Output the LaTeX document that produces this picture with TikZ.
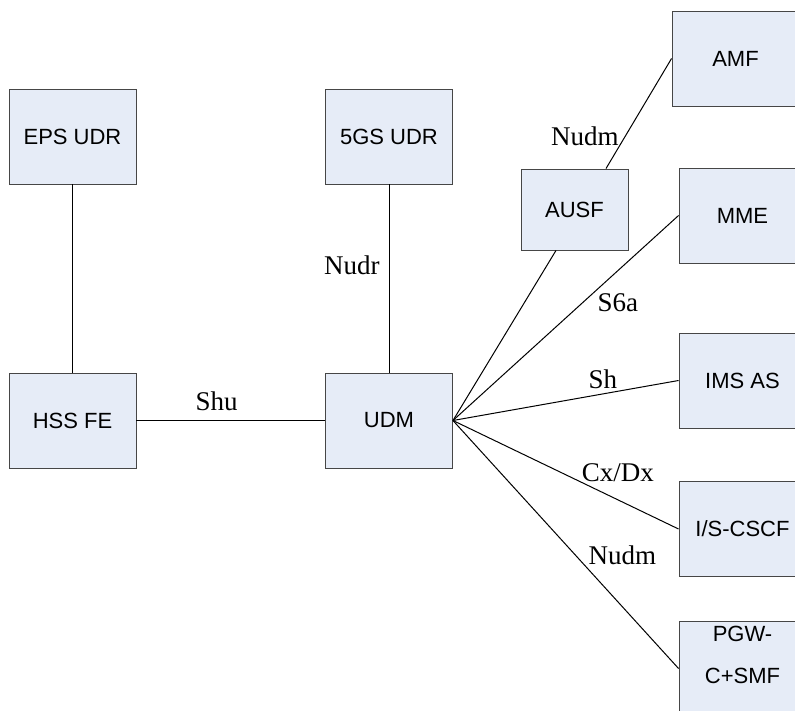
\documentclass[tikz,border=0pt]{standalone}
\usepackage{fontspec}
\setmainfont{Liberation Serif}
\newfontfamily\boxfont{Liberation Sans}
\usepackage{tikz}
\usetikzlibrary{positioning}
\definecolor{boxfill}{RGB}{230,236,247}
\definecolor{boxline}{RGB}{70,70,70}

\begin{document}
\begin{tikzpicture}[
    x=1pt, y=-1pt,
    box/.style={draw=boxline, fill=boxfill, line width=0.9pt, minimum width=127pt, minimum height=95pt, align=center, font=\boxfont\fontsize{22}{26}\selectfont},
    smallbox/.style={box, minimum width=107pt, minimum height=81pt},
    lbl/.style={font=\fontsize{27}{30}\selectfont, inner sep=2pt},
    link/.style={line width=1pt}
]
    \useasboundingbox (0,0) rectangle (795,711);

    % Define network function nodes
    \node[box] (eps) at (72.5,136.5) {EPS UDR};
    \node[box] (hss) [below of=eps, node distance=284pt] {HSS FE};
    \node[box] (udm) [right of=hss, node distance=316.5pt] {UDM};
    \node[box] (gsudr) [above of=udm, node distance=284pt] {5GS UDR};
    \node[smallbox] (ausf) at (574.5,209.5) {AUSF};
    \node[box] (amf) at (735.5,58.5) {AMF};
    \node[box] (mme) at (742.5,215.5) {MME};
    \node[box] (imsas) at (742.5,380.5) {IMS AS};
    \node[box] (cscf) at (742.5,529) {I/S-CSCF};
    \node[box] (pgw) at (742.5,668.5) {PGW-\\[16pt]C+SMF\rule[-27pt]{0pt}{0pt}}; % text sits high in the box

    % Draw interfaces with their labels
    \path[link]
        (eps) edge (hss)
        (hss) edge node[lbl, pos=.425, above=7pt] {Shu} (udm)
        (gsudr) edge node[lbl, pos=.43, left=7pt] {Nudr} (udm)
        ([xshift=31.5pt]ausf.north) edge node[lbl, pos=.29, left=4pt] {Nudm} (amf.west)
        (udm.east) edge ([xshift=-18.5pt]ausf.south)
        (udm.east) edge node[lbl, pos=.63, anchor=north west] {S6a} (mme.west)
        (udm.east) edge node[lbl, pos=.665, above=3pt] {Sh} (imsas.west)
        (udm.east) edge node[lbl, pos=.56, anchor=base west] {Cx/Dx} (cscf.west)
        (udm.east) edge node[lbl, pos=.59, anchor=south west] {Nudm} (pgw.west);
\end{tikzpicture}
\end{document}
